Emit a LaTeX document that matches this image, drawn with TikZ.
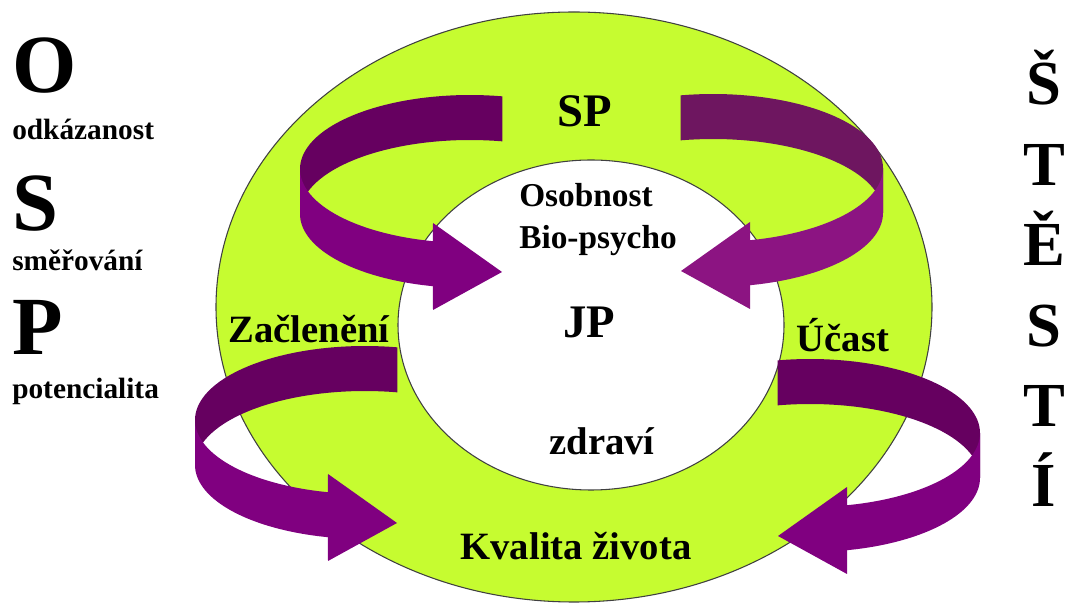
\documentclass[tikz,border=0pt]{standalone}
\usepackage{fontspec}
\setmainfont{Liberation Serif}
\definecolor{ringgreen}{RGB}{198,252,48}
\definecolor{backA}{RGB}{102,0,96}
\definecolor{frontA}{RGB}{128,0,128}
\definecolor{backB}{RGB}{110,22,96}
\definecolor{frontB}{RGB}{140,20,130}
\newcommand\ribbonarrow[4]{%
  \begin{scope}[shift={#1}, xscale=#2]
    \fill[#3] plot[domain=79:180,variable=\t,samples=40] ({170*cos(\t)},{-74*sin(\t)})
      -- plot[domain=180:79,variable=\t,samples=40] ({170*cos(\t)},{-74*sin(\t)+45}) -- cycle;
    \fill[#4] plot[domain=180:257.4,variable=\t,samples=40] ({170*cos(\t)},{-74*sin(\t)})
      -- (-37,54) -- (32,103) -- (-37,141)
      -- plot[domain=257.4:180,variable=\t,samples=40] ({170*cos(\t)},{-74*sin(\t)+45}) -- cycle;
  \end{scope}}
\begin{document}
\begin{tikzpicture}[x=0.75pt,y=-0.75pt,
  lbl/.style={inner sep=0pt, anchor=base, font=\fontsize{#1}{#1}\selectfont\bfseries},
  ringline/.style={draw=black!75, line width=0.8pt}]
\useasboundingbox (0,0) rectangle (1068,605);
% rings
\filldraw[ringline, fill=ringgreen] (574,307) ellipse [x radius=268.5pt, y radius=221.25pt];
\filldraw[ringline, fill=white] (591,325) ellipse [x radius=144.75pt, y radius=123.75pt];
% ribbon arrows
\ribbonarrow{(470,169)}{1}{backA}{frontA}
\ribbonarrow{(713,168)}{-1}{backB}{frontB}
\ribbonarrow{(365,420)}{1}{backA}{frontA}
\ribbonarrow{(810,433)}{-1}{backA}{frontA}
% labels in the ring
\node[lbl=35] (sp) at (585,127) {SP};
\node[lbl=25, anchor=base west] (osob) at (519,207) {Osobnost};
\node[lbl=25, anchor=base west] (bio) at (519,249) {Bio-psycho};
\node[lbl=35] (jp) at (589,338) {JP};
\node[lbl=29] (zdr) at (602,455) {zdraví};
\node[lbl=29] (kval) at (576,560) {Kvalita života};
\node[lbl=29] (zac) at (309,343) {Začlenění};
\node[lbl=29] (uca) at (843,352) {Účast};
% left column
\node[lbl=62, anchor=base west] (bigO) at (12,93) {O};
\node[lbl=22, anchor=base west] (odk) at (12,140) {odkázanost};
\node[lbl=62, anchor=base west] (bigS) at (12,231) {S};
\node[lbl=22, anchor=base west] (smer) at (12,271) {směřování};
\node[lbl=62, anchor=base west] (bigP) at (12,355) {P};
\node[lbl=22, anchor=base west] (pot) at (12,399) {potencialita};
% right column
\node[lbl=47] (r1) at (1044,105) {Š};
\node[lbl=47] (r2) at (1044,185.4) {T};
\node[lbl=47] (r3) at (1044,265.8) {Ě};
\node[lbl=47] (r4) at (1044,346.2) {S};
\node[lbl=47] (r5) at (1044,426.6) {T};
\node[lbl=47] (r6) at (1044,507) {Í};
\end{tikzpicture}
\end{document}
